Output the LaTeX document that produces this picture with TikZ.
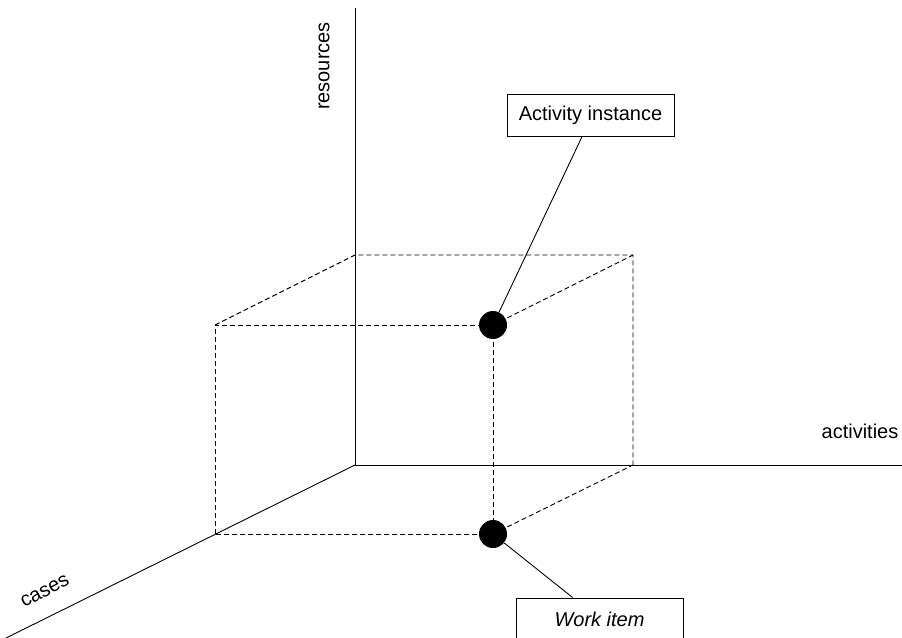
\documentclass[tikz,border=0pt]{standalone}
\usepackage{fontspec}
\setmainfont{Liberation Sans}
\usetikzlibrary{calc}
\begin{document}
\begin{tikzpicture}[x=1bp,y=-1bp,
  axis/.style={line width=0.9bp, black},
  edge/.style={line width=0.9bp, black, dash pattern=on 5bp off 3bp},
  lbl/.style={font=\fontsize{20bp}{24bp}\selectfont, inner sep=0pt},
  tag/.style={draw, line width=0.9bp, minimum width=167bp, minimum height=42bp,
              inner sep=0pt, font=\fontsize{20bp}{24bp}\selectfont},
  dot/.style={circle, fill=black, minimum size=28bp, inner sep=0pt},
  lead/.style={line width=0.9bp, black}]
  \clip (0,0) rectangle (902,638);

  % axes
  \coordinate (O) at (355,465);
  \coordinate (resTop) at (355,8);
  \coordinate (actEnd) at (902,465);
  \coordinate (caseEnd) at (6,638);
  \draw[axis] (O) -- (resTop);
  \draw[axis] (O) -- (actEnd);
  \draw[axis] (O) -- (caseEnd);

  % axis labels
  \node[lbl, rotate=90] (resL) at (324,66) {resources};
  \node[lbl] (actL) at (860,431) {activities};
  \node[lbl, rotate=28] (caseL) at (45,591) {cases};

  % cube corners
  \coordinate (fbl) at (215,534);
  \coordinate (ftl) at (215,325);
  \coordinate (ftr) at (493,325);
  \coordinate (fbr) at (493,534);
  \coordinate (btl) at (355,255);
  \coordinate (btr) at (633,255);
  \coordinate (bbr) at (633,465);

  % dashed cube edges
  \draw[edge] (fbl) -- (ftl) -- (ftr) -- (fbr) -- (fbl);
  \draw[edge] (ftl) -- (btl) -- (btr) -- (bbr);
  \draw[edge] (ftr) -- (btr);
  \draw[edge] (fbr) -- (bbr);

  % highlighted points
  \node[dot] (dA) at (ftr) {};
  \node[dot] (dW) at (fbr) {};

  % callout boxes
  \node[tag, fill=white] (act) at (590.5,115) {Activity instance};
  \node[tag, fill=white] (work) at (599.5,619) {\itshape Work item};

  \draw[lead] (dA) -- ($(act.south west)!0.45!(act.south east)$);
  \draw[lead] (dW) -- ($(work.north west)!0.34!(work.north east)$);
\end{tikzpicture}
\end{document}
